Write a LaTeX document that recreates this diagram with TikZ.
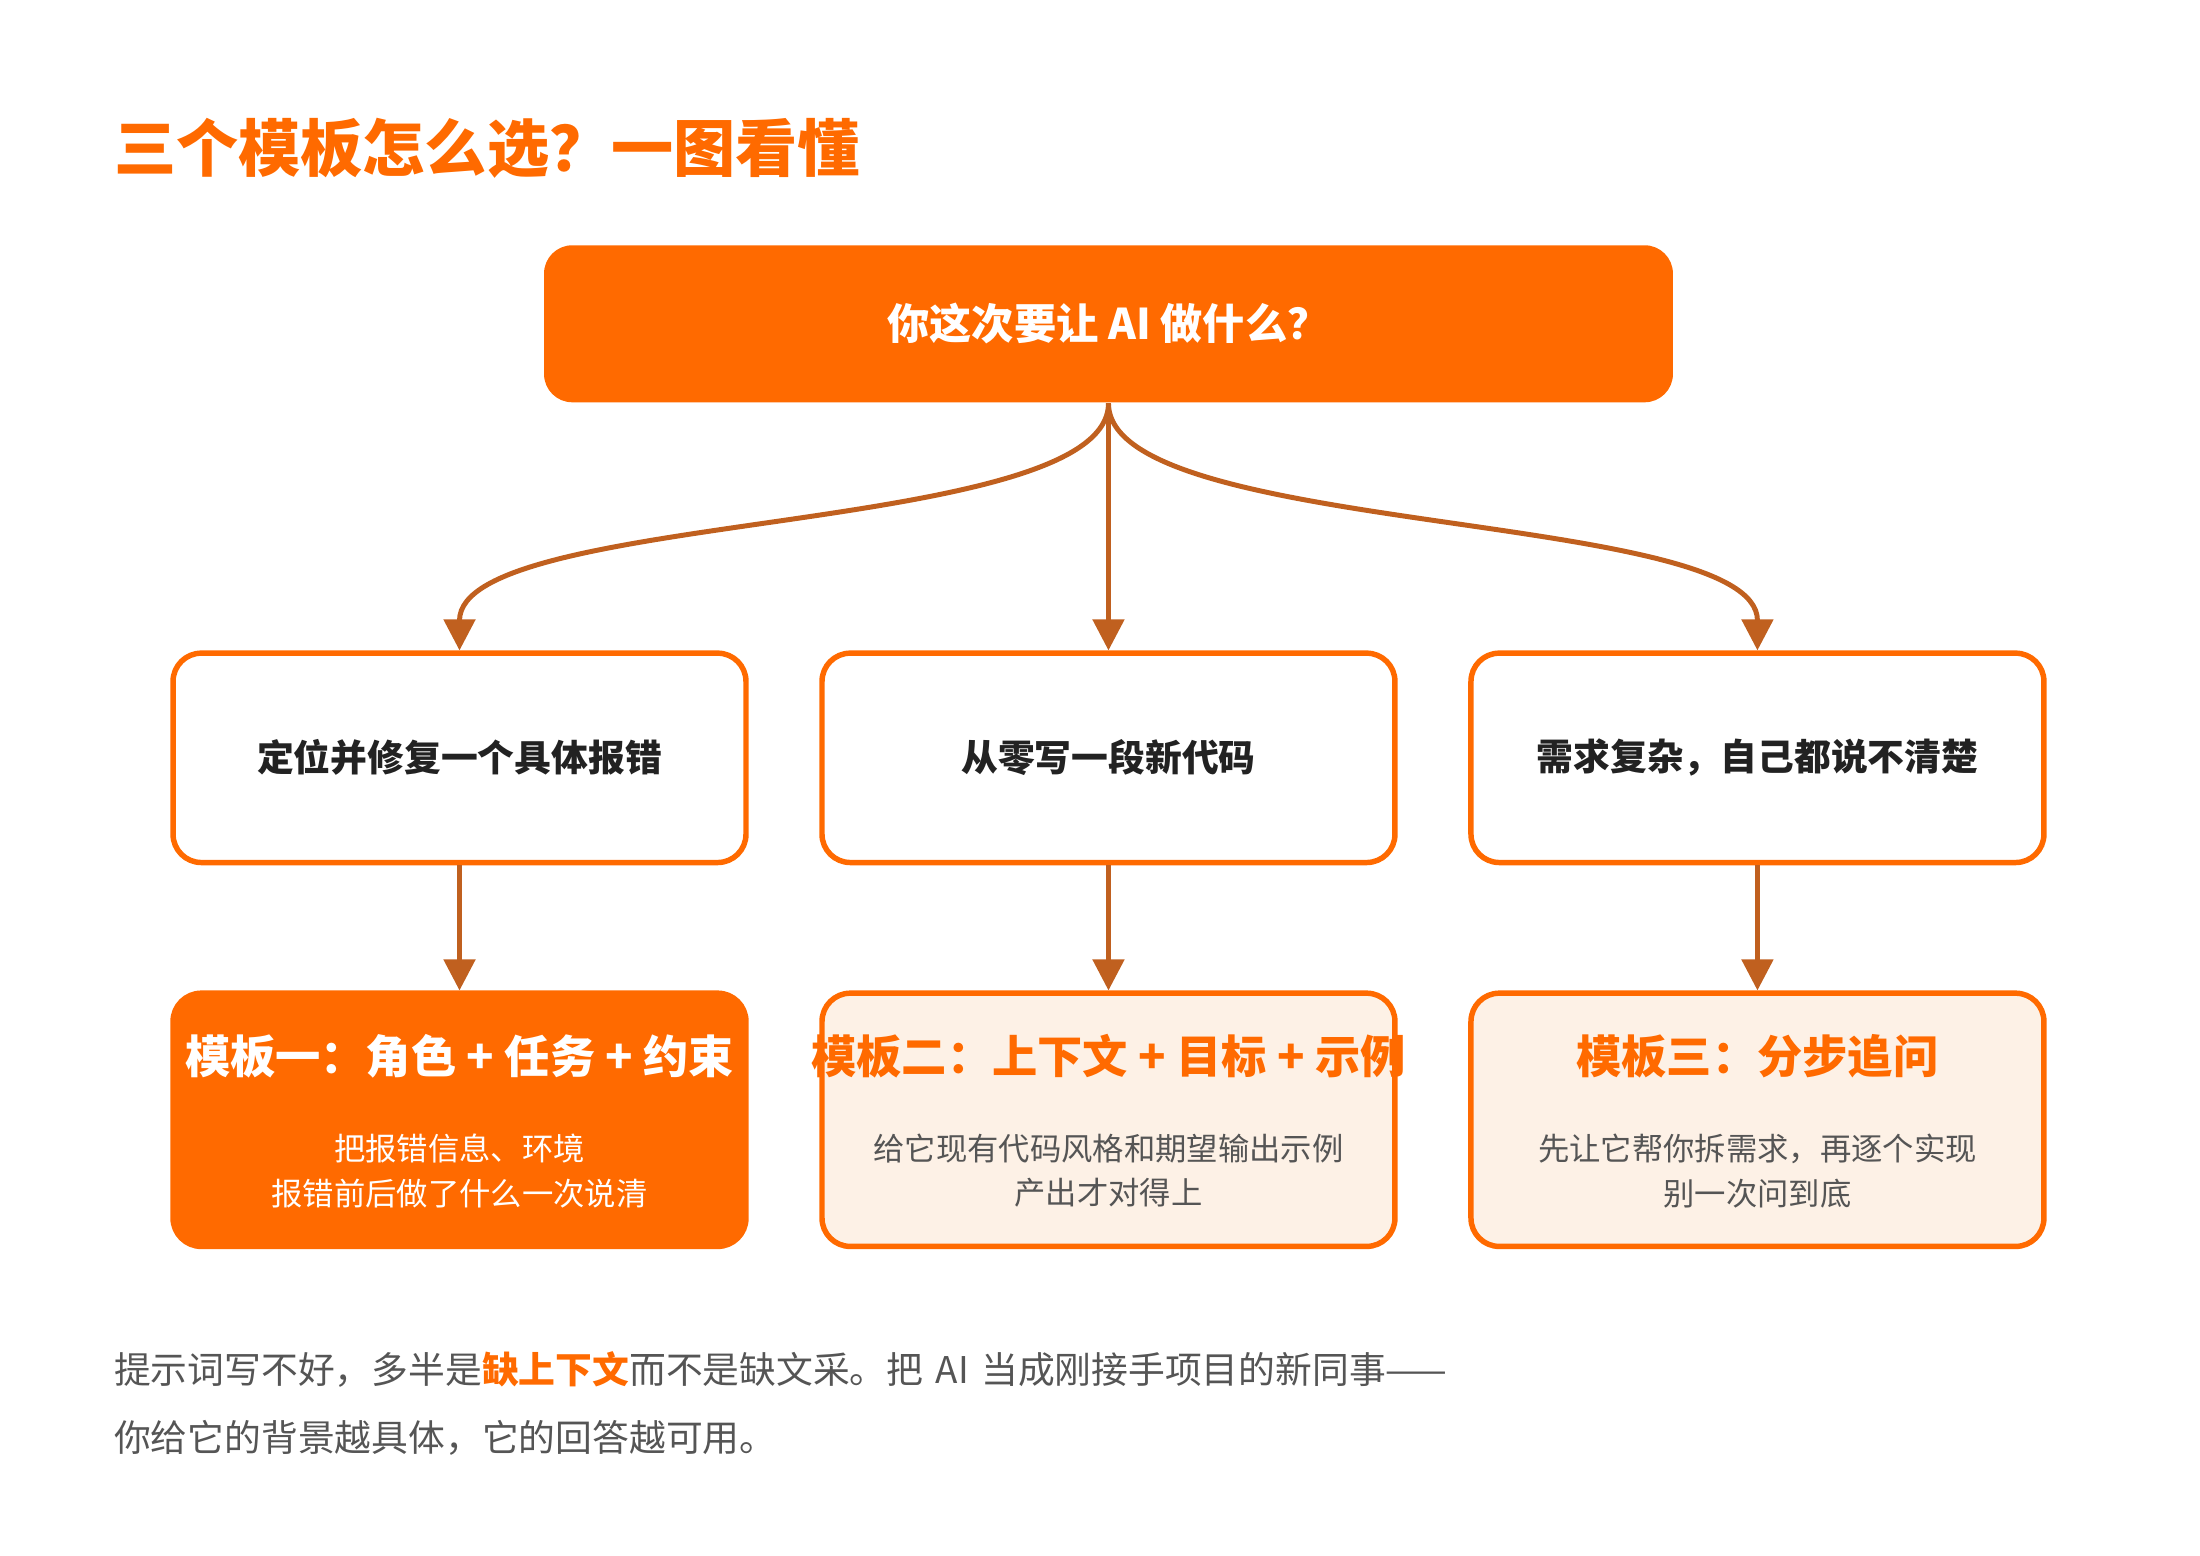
\documentclass[tikz,border=0pt]{standalone}
\usepackage{fontspec}
\setmainfont{Noto Sans CJK SC}
\usetikzlibrary{arrows.meta,positioning}
\definecolor{orng}{HTML}{FF6A00}
\definecolor{brwn}{HTML}{C0601F}
\definecolor{pale}{HTML}{FDF1E6}
\definecolor{txtd}{HTML}{222222}
\definecolor{txtg}{HTML}{555555}
\begin{document}
\begin{tikzpicture}[x=0.01cm,y=-0.01cm]
    \tikzset{every node/.style={inner sep=0pt}}
    \tikzset{box/.style={draw=orng,line width=1.1pt,rounded corners=0.2cm,minimum width=4.05cm,minimum height=1.48cm,fill=white}}
    \tikzset{leaf/.style={box,minimum height=1.79cm,fill=pale}}
    \tikzset{flow/.style={draw=brwn,line width=1pt,-{Triangle[width=0.22cm,length=0.22cm]}}}
    \useasboundingbox (0,0) rectangle (1556,1100);
    \node[anchor=west,text=orng,font=\fontsize{12.5}{14}\selectfont\bfseries] (title) at (80,105) {三个模板怎么选？一图看懂};
    \node[fill=orng,rounded corners=0.2cm,minimum width=7.98cm,minimum height=1.11cm,text=white,font=\fontsize{8.5}{10}\selectfont\bfseries] (ask) at (784,229) {你这次要让 AI 做什么？};
    \node[box,font=\fontsize{7.4}{9}\selectfont\bfseries,text=txtd] (bug) at (325,536) {定位并修复一个具体报错};
    \node[box,font=\fontsize{7.4}{9}\selectfont\bfseries,text=txtd] (new) at (784,536) {从零写一段新代码};
    \node[box,font=\fontsize{7.4}{9}\selectfont\bfseries,text=txtd] (vague) at (1243,536) {需求复杂，自己都说不清楚};
    \node[leaf,fill=orng] (t1) at (325,792) {};
    \node[leaf] (t2) at (784,792) {};
    \node[leaf] (t3) at (1243,792) {};
    % template texts
    \node[text=white,font=\fontsize{9.1}{11}\selectfont\bfseries] at (325,747) {模板一：角色 + 任务 + 约束};
    \node[text=orng,font=\fontsize{9.1}{11}\selectfont\bfseries] at (784,747) {模板二：上下文 + 目标 + 示例};
    \node[text=orng,font=\fontsize{9.1}{11}\selectfont\bfseries] at (1243,747) {模板三：分步追问};
    \node[text=white,align=center,font=\fontsize{6.3}{9}\selectfont] at (325,828) {把报错信息、环境\\报错前后做了什么一次说清};
    \node[text=txtg,align=center,font=\fontsize{6.3}{9}\selectfont] at (784,828) {给它现有代码风格和期望输出示例\\产出才对得上};
    \node[text=txtg,align=center,font=\fontsize{6.3}{9}\selectfont] at (1243,828) {先让它帮你拆需求，再逐个实现\\别一次问到底};
    % connectors
    \draw[flow] (ask.south) .. controls (784,380) and (325,360) .. (bug.north);
    \draw[flow] (ask.south) -- (new.north);
    \draw[flow] (ask.south) .. controls (784,380) and (1243,360) .. (vague.north);
    \draw[flow] (bug) -- (t1);
    \draw[flow] (new) -- (t2);
    \draw[flow] (vague) -- (t3);
    \node[anchor=north west,text width=14.1cm,align=left,text=txtg,font=\fontsize{7.4}{13.7}\selectfont] (note) at (80,955) {提示词写不好，多半是{\color{orng}\bfseries 缺上下文}而不是缺文采。把 AI 当成刚接手项目的新同事——你给它的背景越具体，它的回答越可用。};
\end{tikzpicture}
\end{document}
